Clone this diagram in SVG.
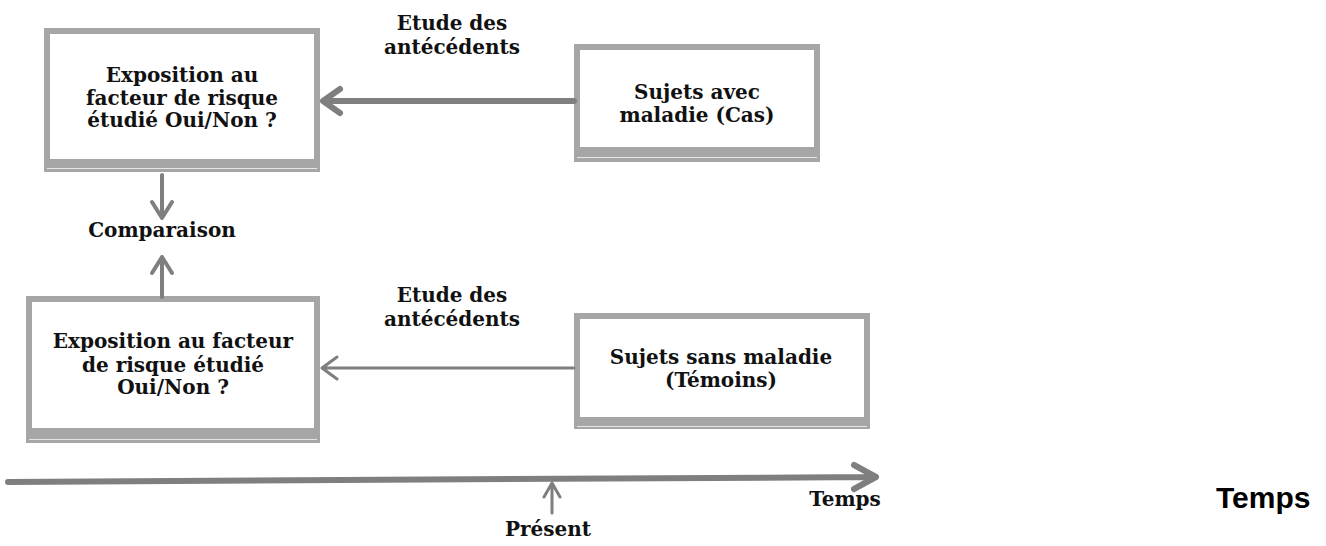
<svg xmlns="http://www.w3.org/2000/svg" width="1326" height="546" viewBox="0 0 1326 546">
<style>
.box{fill:#fff;stroke:#a6a6a6;stroke-width:6}
.band{fill:#a6a6a6}
.hl{stroke:#e6e6e6;stroke-width:1}
.t{font-family:"DejaVu Serif","Liberation Serif",serif;font-weight:bold;font-size:20px;fill:#111;text-anchor:middle}
.c{fill:none;stroke:#7f7f7f;stroke-linecap:round;stroke-linejoin:round}
.big{font-family:"Liberation Sans",Arial,sans-serif;font-weight:bold;font-size:30px;fill:#000}
</style>
<rect width="1326" height="546" fill="#fff"/>
<g id="box-exposition-cas">
<rect class="box" x="47" y="31" width="270" height="131"/>
<rect class="band" x="44" y="162" width="276" height="10"/>
<line class="hl" x1="47" y1="168.5" x2="317" y2="168.5"/>
<text class="t" x="182" y="82">Exposition au</text>
<text class="t" x="182" y="105">facteur de risque</text>
<text class="t" x="182" y="127">étudié Oui/Non ?</text>
</g>
<g id="box-cas">
<rect class="box" x="577" y="47" width="240" height="103"/>
<rect class="band" x="574" y="150" width="246" height="12"/>
<line class="hl" x1="577" y1="157.5" x2="817" y2="157.5"/>
<text class="t" x="697" y="99">Sujets avec</text>
<text class="t" x="697" y="122">maladie (Cas)</text>
</g>
<g id="box-exposition-temoins">
<rect class="box" x="29" y="299" width="288" height="132"/>
<rect class="band" x="26" y="431" width="294" height="12"/>
<line class="hl" x1="29" y1="439.5" x2="317" y2="439.5"/>
<text class="t" x="173" y="348">Exposition au facteur</text>
<text class="t" x="173" y="372">de risque étudié</text>
<text class="t" x="173" y="394">Oui/Non ?</text>
</g>
<g id="box-temoins">
<rect class="box" x="577" y="316" width="290" height="104"/>
<rect class="band" x="574" y="420" width="296" height="9"/>
<line class="hl" x1="577" y1="426.5" x2="867" y2="426.5"/>
<text class="t" x="721" y="364">Sujets sans maladie</text>
<text class="t" x="721" y="387">(Témoins)</text>
</g>
<g id="labels">
<text class="t" x="452" y="30">Etude des</text>
<text class="t" x="452" y="54">antécédents</text>
<text class="t" x="452" y="302">Etude des</text>
<text class="t" x="452" y="326">antécédents</text>
<text class="t" x="162" y="237">Comparaison</text>
<text class="t" x="548" y="536">Présent</text>
<text class="t" x="845" y="506">Temps</text>
<text class="big" x="1216" y="508">Temps</text>
</g>
<g id="connectors">
<path class="c" stroke-width="6" d="M574 101 H324 M340 89 L323 101 L340 113"/>
<path class="c" stroke-width="3" d="M574 368 H323 M337 357 L322 368 L337 379"/>
<path class="c" stroke-width="4" d="M162 175 V218 M152 202 L162 218 L172 202"/>
<path class="c" stroke-width="4" d="M162 297 V257 M152 273 L162 257 L172 273"/>
<path class="c" stroke-width="6" d="M8 482 L874 477 M854 465 L876 477 L854 489"/>
<path class="c" stroke-width="3" d="M552 513 V483 M544 497 L552 483 L560 497"/>
</g>
</svg>
